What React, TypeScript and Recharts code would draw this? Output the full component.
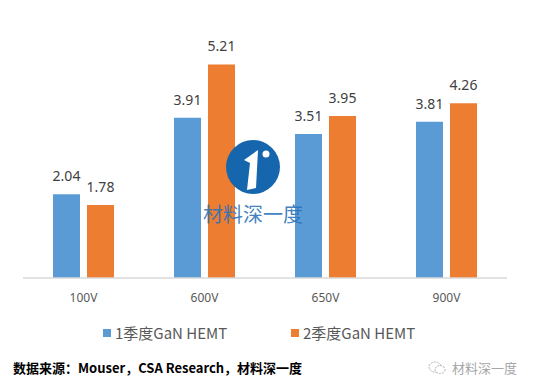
import type { JSX } from 'react';
import { Bar, BarChart, LabelList, Legend, XAxis, YAxis } from 'recharts';

const categories = ['100V', '600V', '650V', '900V'];
const q1Values = [2.04, 3.91, 3.51, 3.81];
const q2Values = [1.78, 5.21, 3.95, 4.26];
const seriesNames = ['1季度GaN HEMT', '2季度GaN HEMT'];
const seriesColors = ['#5B9BD5', '#ED7D31'];

const sourceText = '数据来源：Mouser，CSA Research，材料深一度';
const brandText = '材料深一度';

const chartData = categories.map((name, i) => ({ name, q1: q1Values[i], q2: q2Values[i] }));

const LATIN = '"Noto Sans", "Noto Sans CJK SC", sans-serif';
const CJK = '"Noto Sans CJK SC", "Noto Sans", sans-serif';

// left edge of each legend item
const LEGEND_X = [103, 291];

/**
 * Legend row under the axis
 */
function LegendRow(): JSX.Element {
  return (
    <div style={{ position: 'relative', width: 536, height: 20 }}>
      {seriesNames.map((name, i) => (
        <div
          key={name}
          style={{ position: 'absolute', left: LEGEND_X[i], top: 0, display: 'flex', alignItems: 'center', gap: 4 }}
        >
          <span style={{ width: 8, height: 8, background: seriesColors[i], display: 'inline-block' }} />
          <span style={{ fontFamily: CJK, fontSize: 15, color: '#595959', lineHeight: '20px', whiteSpace: 'nowrap' }}>
            {name}
          </span>
        </div>
      ))}
    </div>
  );
}

/**
 * Blue round logo watermark in the middle of the plot
 */
function Watermark(): JSX.Element {
  return (
    <svg width={536} height={392} style={{ position: 'absolute', left: 0, top: 0, pointerEvents: 'none' }}>
      <circle cx={253} cy={167} r={27} fill="#1666AE" />
      <path d="M244 160 L258 150 L256 188 L247 190 L250 163 Z" fill="#fff" />
      <circle cx={266} cy={154} r={3.5} fill="#fff" />
      <text
        x={253}
        y={222}
        textAnchor="middle"
        fontFamily={CJK}
        fontSize={20}
        fill="#2B72B8"
        fillOpacity={0.9}
      >
        {brandText}
      </text>
    </svg>
  );
}

export default function App(): JSX.Element {
  return (
    <div style={{ position: 'absolute', left: 0, top: 0, width: 536, height: 392, background: '#fff', overflow: 'hidden' }}>
      <BarChart
        width={536}
        height={392}
        data={chartData}
        margin={{ top: 32, right: 29, left: 23, bottom: 84 }}
        barCategoryGap={30}
        barGap={7}
      >
        <XAxis
          dataKey="name"
          height={30}
          tickLine={false}
          tickMargin={9}
          axisLine={{ stroke: '#D9D9D9', strokeWidth: 1.5 }}
          tick={{ fontSize: 12, fill: '#595959', fontFamily: LATIN }}
        />
        <YAxis hide domain={[0, 6]} />
        <Legend
          verticalAlign="middle"
          align="center"
          wrapperStyle={{ top: 323, left: 0, width: 536 }}
          content={() => <LegendRow />}
        />
        <Bar dataKey="q1" name={seriesNames[0]} fill={seriesColors[0]} isAnimationActive={false}>
          <LabelList
            dataKey="q1"
            position="top"
            offset={13}
            fill="#404040"
            fontSize={14}
            fontFamily={LATIN}
          />
        </Bar>
        <Bar dataKey="q2" name={seriesNames[1]} fill={seriesColors[1]} isAnimationActive={false}>
          <LabelList
            dataKey="q2"
            position="top"
            offset={13}
            fill="#404040"
            fontSize={14}
            fontFamily={LATIN}
          />
        </Bar>
      </BarChart>

      <Watermark />

      {/* Source note */}
      <div
        style={{
          position: 'absolute',
          left: 13,
          top: 358,
          fontFamily: CJK,
          fontWeight: 700,
          fontSize: 13,
          color: '#000',
          lineHeight: '20px',
          whiteSpace: 'nowrap',
        }}
      >
        {sourceText}
      </div>

      {/* Channel mark, bottom right */}
      <div
        style={{
          position: 'absolute',
          left: 428,
          top: 358,
          display: 'flex',
          alignItems: 'center',
          gap: 6,
          color: '#A6A6A6',
          fontFamily: CJK,
          fontSize: 13,
          lineHeight: '20px',
          whiteSpace: 'nowrap',
        }}
      >
        <svg width={18} height={14}>
          <ellipse cx={7} cy={6} rx={6} ry={5} fill="none" stroke="#B0B0B0" strokeWidth={1} strokeDasharray="2 1" />
          <ellipse cx={12} cy={8.5} rx={5} ry={4} fill="#fff" stroke="#B0B0B0" strokeWidth={1} strokeDasharray="2 1" />
        </svg>
        <span>{brandText}</span>
      </div>
    </div>
  );
}
